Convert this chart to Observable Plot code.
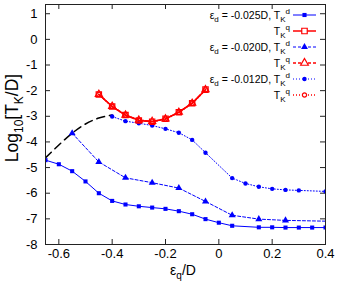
<!DOCTYPE html>
<html><head><meta charset="utf-8">
<script src="https://cdn.jsdelivr.net/npm/d3@7"></script>
<script src="https://cdn.jsdelivr.net/npm/@observablehq/plot@0.6"></script>
<style>body{margin:0;background:#fff}</style>
</head><body><div id="chart"></div>
<script>
// ticks
const xTicks = [-0.6, -0.4, -0.2, 0, 0.2, 0.4];
const yTicks = [-8, -7, -6, -5, -4, -3, -2, -1, 0, 1];

// eps_d = -0.025D, T_K^d (blue squares, solid)
const xA = [-0.65,-0.6,-0.55,-0.5,-0.45,-0.4,-0.35,-0.3,-0.25,-0.2,-0.15,-0.1,-0.05,0,0.05,0.15,0.2,0.25,0.3,0.35,0.4];
const yA = [-4.71,-4.87,-5.14,-5.54,-6.0,-6.30,-6.44,-6.51,-6.56,-6.61,-6.70,-6.82,-7.01,-7.15,-7.27,-7.33,-7.33,-7.34,-7.34,-7.34,-7.34];
// eps_d = -0.020D, T_K^d (blue triangles, dashed)
const xB = [-0.55,-0.45,-0.35,-0.25,-0.15,-0.05,0.05,0.15,0.25,0.45];
const yB = [-3.66,-4.78,-5.40,-5.59,-5.80,-6.32,-6.86,-7.01,-7.06,-7.10];
// eps_d = -0.012D, T_K^d (blue circles, dotted)
const xC = [-0.4,-0.35,-0.3,-0.25,-0.2,-0.15,-0.1,-0.05,0.05,0.1,0.15,0.2,0.25,0.3,0.4];
const yC = [-3.01,-3.19,-3.27,-3.36,-3.49,-3.64,-3.92,-4.42,-5.41,-5.62,-5.75,-5.83,-5.87,-5.89,-5.93];
// T_K^q (red) for the three eps_d
const xQ = [-0.45,-0.4,-0.35,-0.3,-0.25,-0.2,-0.15,-0.1,-0.05];
const yQA = [-2.15,-2.62,-2.95,-3.16,-3.21,-3.10,-2.84,-2.49,-1.96];
const yQB = [-2.14,-2.61,-2.95,-3.15,-3.20,-3.10,-2.84,-2.49,-1.96];
const yQC = [-2.15,-2.62,-2.96,-3.16,-3.21,-3.11,-2.85,-2.50,-1.97];
// black dashed envelope
const xE = [-0.65,-0.6,-0.55,-0.5,-0.45,-0.4];
const yE = [-4.62,-4.12,-3.66,-3.30,-3.07,-2.95];

const rows = (xs, ys) => xs.map((x, i) => ({x, y: ys[i]}));
const A = rows(xA, yA), B = rows(xB, yB), C = rows(xC, yC);
const QA = rows(xQ, yQA), QB = rows(xQ, yQB), QC = rows(xQ, yQC), E = rows(xE, yE);

const font = "'Liberation Sans', Arial, Helvetica, sans-serif";
const BLUE = "#0000ff", RED = "#ff0000";

const plot = Plot.plot({
  width: 338, height: 285,
  marginLeft: 45, marginRight: 13, marginTop: 4, marginBottom: 41,
  x: {domain: [-0.65, 0.4]},
  y: {domain: [-8, 1.36]},
  style: {fontFamily: font, fontSize: "13px", color: "black", background: "white"},
  marks: [
    Plot.axisX(xTicks, {tickSize: 0, tickPadding: 4, tickFormat: d => String(d), label: null, fontSize: 13}),
    Plot.axisY(yTicks, {tickSize: 0, tickPadding: 8, tickFormat: d => String(d), label: null, fontSize: 13}),
    Plot.tickX(xTicks, {x: d => d, insetTop: 235, stroke: "#222"}),
    Plot.tickX(xTicks, {x: d => d, insetBottom: 235, stroke: "#222"}),
    Plot.tickY(yTicks, {y: d => d, insetRight: 275, stroke: "#222"}),
    Plot.tickY(yTicks, {y: d => d, insetLeft: 275, stroke: "#222"}),
    Plot.line(E, {x: "x", y: "y", stroke: "black", strokeWidth: 1.5, strokeDasharray: "8,5", curve: "natural", clip: true}),
    Plot.line(A, {x: "x", y: "y", stroke: BLUE, strokeWidth: 1, clip: true}),
    Plot.dot(A, {x: "x", y: "y", symbol: "square", r: 2.3, fill: BLUE, clip: true}),
    Plot.line(B, {x: "x", y: "y", stroke: BLUE, strokeWidth: 1, strokeDasharray: "3,2", clip: true}),
    Plot.dot(B, {x: "x", y: "y", symbol: "triangle", r: 2.6, fill: BLUE, clip: true}),
    Plot.line(C, {x: "x", y: "y", stroke: BLUE, strokeWidth: 1, strokeDasharray: "1,2", clip: true}),
    Plot.dot(C, {x: "x", y: "y", symbol: "circle", r: 2.2, fill: BLUE, clip: true}),
    Plot.line(QA, {x: "x", y: "y", stroke: RED, strokeWidth: 1.5, clip: true}),
    Plot.dot(QA, {x: "x", y: "y", symbol: "square", r: 3.0, stroke: RED, strokeWidth: 1.2, fill: "none", clip: true}),
    Plot.line(QB, {x: "x", y: "y", stroke: RED, strokeWidth: 1.5, strokeDasharray: "3,2", clip: true}),
    Plot.dot(QB, {x: "x", y: "y", symbol: "triangle", r: 2.7, stroke: RED, strokeWidth: 1.1, fill: "none", clip: true}),
    Plot.line(QC, {x: "x", y: "y", stroke: RED, strokeWidth: 1.5, strokeDasharray: "1,2", clip: true}),
    Plot.dot(QC, {x: "x", y: "y", symbol: "circle", r: 2.0, stroke: RED, strokeWidth: 1.1, fill: "none", clip: true}),
    Plot.frame({stroke: "#222"})
  ]
});
document.getElementById("chart").appendChild(plot);

const svg = d3.select(plot);

// rich text helper: parts = [[text, kind]] kind: n (normal), sub, sup
function rich(sel, parts, base, small) {
  let shift = 0;
  parts.forEach(([t, k]) => {
    const ts = sel.append("tspan").text(t);
    let target = 0;
    if (k === "sub") { target = base * 0.3; ts.attr("font-size", small); }
    if (k === "sup") { target = -base * 0.45; ts.attr("font-size", small); }
    ts.attr("dy", target - shift);
    shift = target;
  });
}

// axis labels
const yl = svg.append("text").attr("transform", "translate(17.5,118) rotate(-90)")
  .attr("text-anchor", "middle").attr("font-family", font).attr("font-size", 17.5).attr("fill", "black");
rich(yl, [["Log", "n"], ["10", "sub"], ["[T", "n"], ["K", "sub"], ["/D]", "n"]], 17.5, 12);

const xl = svg.append("text").attr("x", 183).attr("y", 275)
  .attr("text-anchor", "middle").attr("font-family", font).attr("font-size", 14).attr("fill", "black");
rich(xl, [["ε", "n"], ["q", "sub"], ["/D", "n"]], 14, 10);

// legend
const legend = [
  {y: 15, parts: [["ε", "n"], ["d", "sub"], [" = -0.025D, T", "n"], ["K", "sub"], ["d", "sup"]], color: BLUE, dash: null, sym: d3.symbolSquare, size: 17, fill: true},
  {y: 31, parts: [["T", "n"], ["K", "sub"], ["q", "sup"]], color: RED, dash: null, sym: d3.symbolSquare, size: 30, fill: false},
  {y: 47, parts: [["ε", "n"], ["d", "sub"], [" = -0.020D, T", "n"], ["K", "sub"], ["d", "sup"]], color: BLUE, dash: "3,2", sym: d3.symbolTriangle, size: 21, fill: true},
  {y: 63, parts: [["T", "n"], ["K", "sub"], ["q", "sup"]], color: RED, dash: "3,2", sym: d3.symbolTriangle, size: 26, fill: false},
  {y: 79, parts: [["ε", "n"], ["d", "sub"], [" = -0.012D, T", "n"], ["K", "sub"], ["d", "sup"]], color: BLUE, dash: "1,2", sym: d3.symbolCircle, size: 15, fill: true},
  {y: 95, parts: [["T", "n"], ["K", "sub"], ["q", "sup"]], color: RED, dash: "1,2", sym: d3.symbolCircle, size: 14, fill: false}
];
const lg = svg.append("g").attr("font-family", font).attr("font-size", 10.5);
legend.forEach(r => {
  const t = lg.append("text").attr("x", 290).attr("y", r.y + 3.5).attr("text-anchor", "end").attr("fill", "black");
  rich(t, r.parts, 10.5, 8);
  lg.append("line").attr("x1", 293).attr("x2", 316).attr("y1", r.y).attr("y2", r.y)
    .attr("stroke", r.color).attr("stroke-width", r.color === RED ? 1.5 : 1)
    .attr("stroke-dasharray", r.dash);
  lg.append("path").attr("d", d3.symbol(r.sym, r.size)()).attr("transform", `translate(304.5,${r.y})`)
    .attr("fill", r.fill ? r.color : "white").attr("stroke", r.fill ? "none" : r.color).attr("stroke-width", 1.2);
});
</script>
</body></html>
